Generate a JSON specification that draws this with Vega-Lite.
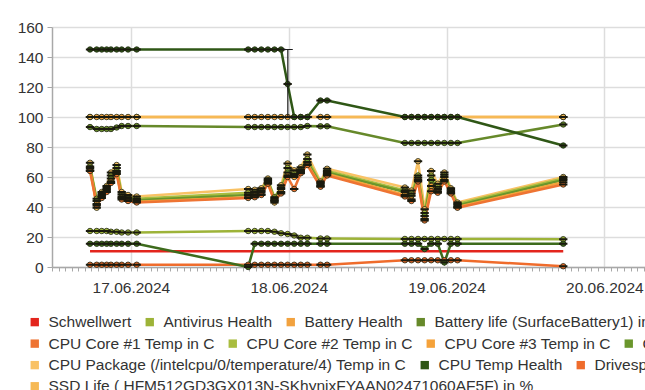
{
  "$schema": "https://vega.github.io/schema/vega-lite/v6.json",
  "autosize": {"type": "none"},
  "padding": {"left": 52, "top": 27, "right": 0, "bottom": 123},
  "width": 593,
  "height": 240,
  "config": {"view": {"stroke": null}, "font": "Liberation Sans",
    "legend": {"orient": "none", "direction": "horizontal", "title": null, "symbolType": "square", "symbolSize": 70,
      "symbolStrokeWidth": 0, "symbolOpacity": 1, "labelFont": "Liberation Sans", "labelFontSize": 15.5,
      "labelColor": "#333333", "labelOffset": 6, "columnPadding": 10, "labelLimit": 1000, "padding": 0}},
  "datasets": {
    "series": [
      {"s":"Schwellwert","t":"2024-06-16T17:47","v":10.5},
      {"s":"Schwellwert","t":"2024-06-19T17:45","v":10.5},

      {"s":"Antivirus Health","t":"2024-06-16T17:47","v":24},
      {"s":"Antivirus Health","t":"2024-06-16T18:48","v":24},
      {"s":"Antivirus Health","t":"2024-06-16T19:34","v":24},
      {"s":"Antivirus Health","t":"2024-06-16T20:19","v":24},
      {"s":"Antivirus Health","t":"2024-06-16T20:58","v":23.5},
      {"s":"Antivirus Health","t":"2024-06-16T21:50","v":23.5},
      {"s":"Antivirus Health","t":"2024-06-16T22:36","v":23},
      {"s":"Antivirus Health","t":"2024-06-16T23:34","v":23},
      {"s":"Antivirus Health","t":"2024-06-17T00:53","v":23},
      {"s":"Antivirus Health","t":"2024-06-17T17:50","v":24},
      {"s":"Antivirus Health","t":"2024-06-17T18:50","v":24},
      {"s":"Antivirus Health","t":"2024-06-17T19:50","v":24},
      {"s":"Antivirus Health","t":"2024-06-17T20:50","v":24},
      {"s":"Antivirus Health","t":"2024-06-17T21:50","v":23.5},
      {"s":"Antivirus Health","t":"2024-06-17T22:50","v":22.5},
      {"s":"Antivirus Health","t":"2024-06-17T23:50","v":22},
      {"s":"Antivirus Health","t":"2024-06-18T00:50","v":21},
      {"s":"Antivirus Health","t":"2024-06-18T01:50","v":19.5},
      {"s":"Antivirus Health","t":"2024-06-18T02:50","v":19.5},
      {"s":"Antivirus Health","t":"2024-06-18T04:50","v":19},
      {"s":"Antivirus Health","t":"2024-06-18T05:50","v":19},
      {"s":"Antivirus Health","t":"2024-06-18T17:40","v":18.7},
      {"s":"Antivirus Health","t":"2024-06-18T18:40","v":18.7},
      {"s":"Antivirus Health","t":"2024-06-18T19:40","v":18.7},
      {"s":"Antivirus Health","t":"2024-06-18T20:40","v":18.7},
      {"s":"Antivirus Health","t":"2024-06-18T21:40","v":18.7},
      {"s":"Antivirus Health","t":"2024-06-18T22:40","v":18.7},
      {"s":"Antivirus Health","t":"2024-06-18T23:40","v":18.7},
      {"s":"Antivirus Health","t":"2024-06-19T00:40","v":18.7},
      {"s":"Antivirus Health","t":"2024-06-19T01:40","v":18.7},
      {"s":"Antivirus Health","t":"2024-06-19T17:45","v":18.5},

      {"s":"Battery Health","t":"2024-06-16T17:47","v":100},
      {"s":"Battery Health","t":"2024-06-16T18:48","v":100},
      {"s":"Battery Health","t":"2024-06-16T19:34","v":100},
      {"s":"Battery Health","t":"2024-06-16T20:19","v":100},
      {"s":"Battery Health","t":"2024-06-16T20:58","v":100},
      {"s":"Battery Health","t":"2024-06-16T21:50","v":100},
      {"s":"Battery Health","t":"2024-06-16T22:36","v":100},
      {"s":"Battery Health","t":"2024-06-16T23:34","v":100},
      {"s":"Battery Health","t":"2024-06-17T00:53","v":100},
      {"s":"Battery Health","t":"2024-06-17T17:50","v":100},
      {"s":"Battery Health","t":"2024-06-17T18:50","v":100},
      {"s":"Battery Health","t":"2024-06-17T19:50","v":100},
      {"s":"Battery Health","t":"2024-06-17T20:50","v":100},
      {"s":"Battery Health","t":"2024-06-17T21:50","v":100},
      {"s":"Battery Health","t":"2024-06-17T22:50","v":100},
      {"s":"Battery Health","t":"2024-06-17T23:50","v":100},
      {"s":"Battery Health","t":"2024-06-18T00:50","v":100},
      {"s":"Battery Health","t":"2024-06-18T01:50","v":100},
      {"s":"Battery Health","t":"2024-06-18T02:50","v":100},
      {"s":"Battery Health","t":"2024-06-18T04:50","v":100},
      {"s":"Battery Health","t":"2024-06-18T05:50","v":100},
      {"s":"Battery Health","t":"2024-06-18T17:40","v":100},
      {"s":"Battery Health","t":"2024-06-18T18:40","v":100},
      {"s":"Battery Health","t":"2024-06-18T19:40","v":100},
      {"s":"Battery Health","t":"2024-06-18T20:40","v":100},
      {"s":"Battery Health","t":"2024-06-18T21:40","v":100},
      {"s":"Battery Health","t":"2024-06-18T22:40","v":100},
      {"s":"Battery Health","t":"2024-06-18T23:40","v":100},
      {"s":"Battery Health","t":"2024-06-19T00:40","v":100},
      {"s":"Battery Health","t":"2024-06-19T01:40","v":100},
      {"s":"Battery Health","t":"2024-06-19T17:45","v":100},

      {"s":"Battery life (SurfaceBattery1) in %","t":"2024-06-16T17:47","v":93.3},
      {"s":"Battery life (SurfaceBattery1) in %","t":"2024-06-16T18:48","v":92},
      {"s":"Battery life (SurfaceBattery1) in %","t":"2024-06-16T19:34","v":92},
      {"s":"Battery life (SurfaceBattery1) in %","t":"2024-06-16T20:19","v":92},
      {"s":"Battery life (SurfaceBattery1) in %","t":"2024-06-16T20:58","v":92},
      {"s":"Battery life (SurfaceBattery1) in %","t":"2024-06-16T21:50","v":93},
      {"s":"Battery life (SurfaceBattery1) in %","t":"2024-06-16T22:36","v":94},
      {"s":"Battery life (SurfaceBattery1) in %","t":"2024-06-16T23:34","v":94},
      {"s":"Battery life (SurfaceBattery1) in %","t":"2024-06-17T00:53","v":94},
      {"s":"Battery life (SurfaceBattery1) in %","t":"2024-06-17T17:50","v":93.3},
      {"s":"Battery life (SurfaceBattery1) in %","t":"2024-06-17T18:50","v":93.3},
      {"s":"Battery life (SurfaceBattery1) in %","t":"2024-06-17T19:50","v":93.3},
      {"s":"Battery life (SurfaceBattery1) in %","t":"2024-06-17T20:50","v":93.3},
      {"s":"Battery life (SurfaceBattery1) in %","t":"2024-06-17T21:50","v":93.3},
      {"s":"Battery life (SurfaceBattery1) in %","t":"2024-06-17T22:50","v":93.3},
      {"s":"Battery life (SurfaceBattery1) in %","t":"2024-06-17T23:50","v":93.3},
      {"s":"Battery life (SurfaceBattery1) in %","t":"2024-06-18T00:50","v":93.3},
      {"s":"Battery life (SurfaceBattery1) in %","t":"2024-06-18T01:50","v":93.3},
      {"s":"Battery life (SurfaceBattery1) in %","t":"2024-06-18T02:50","v":94},
      {"s":"Battery life (SurfaceBattery1) in %","t":"2024-06-18T04:50","v":93.8},
      {"s":"Battery life (SurfaceBattery1) in %","t":"2024-06-18T05:50","v":93.8},
      {"s":"Battery life (SurfaceBattery1) in %","t":"2024-06-18T17:40","v":82.7},
      {"s":"Battery life (SurfaceBattery1) in %","t":"2024-06-18T18:40","v":82.7},
      {"s":"Battery life (SurfaceBattery1) in %","t":"2024-06-18T19:40","v":82.7},
      {"s":"Battery life (SurfaceBattery1) in %","t":"2024-06-18T20:40","v":82.7},
      {"s":"Battery life (SurfaceBattery1) in %","t":"2024-06-18T21:40","v":82.7},
      {"s":"Battery life (SurfaceBattery1) in %","t":"2024-06-18T22:40","v":82.7},
      {"s":"Battery life (SurfaceBattery1) in %","t":"2024-06-18T23:40","v":82.7},
      {"s":"Battery life (SurfaceBattery1) in %","t":"2024-06-19T00:40","v":82.7},
      {"s":"Battery life (SurfaceBattery1) in %","t":"2024-06-19T01:40","v":82.7},
      {"s":"Battery life (SurfaceBattery1) in %","t":"2024-06-19T17:45","v":95},

      {"s":"CPU Package (/intelcpu/0/temperature/4) Temp in C","t":"2024-06-16T17:47","v":69.5},
      {"s":"CPU Package (/intelcpu/0/temperature/4) Temp in C","t":"2024-06-16T18:48","v":39.5},
      {"s":"CPU Package (/intelcpu/0/temperature/4) Temp in C","t":"2024-06-16T19:34","v":50},
      {"s":"CPU Package (/intelcpu/0/temperature/4) Temp in C","t":"2024-06-16T20:19","v":54},
      {"s":"CPU Package (/intelcpu/0/temperature/4) Temp in C","t":"2024-06-16T20:58","v":63},
      {"s":"CPU Package (/intelcpu/0/temperature/4) Temp in C","t":"2024-06-16T21:50","v":68},
      {"s":"CPU Package (/intelcpu/0/temperature/4) Temp in C","t":"2024-06-16T22:36","v":50},
      {"s":"CPU Package (/intelcpu/0/temperature/4) Temp in C","t":"2024-06-16T23:34","v":48},
      {"s":"CPU Package (/intelcpu/0/temperature/4) Temp in C","t":"2024-06-17T00:53","v":47},
      {"s":"CPU Package (/intelcpu/0/temperature/4) Temp in C","t":"2024-06-17T17:50","v":52},
      {"s":"CPU Package (/intelcpu/0/temperature/4) Temp in C","t":"2024-06-17T18:50","v":51.5},
      {"s":"CPU Package (/intelcpu/0/temperature/4) Temp in C","t":"2024-06-17T19:50","v":52.5},
      {"s":"CPU Package (/intelcpu/0/temperature/4) Temp in C","t":"2024-06-17T20:50","v":59},
      {"s":"CPU Package (/intelcpu/0/temperature/4) Temp in C","t":"2024-06-17T21:50","v":43},
      {"s":"CPU Package (/intelcpu/0/temperature/4) Temp in C","t":"2024-06-17T22:50","v":54.5},
      {"s":"CPU Package (/intelcpu/0/temperature/4) Temp in C","t":"2024-06-17T23:50","v":69},
      {"s":"CPU Package (/intelcpu/0/temperature/4) Temp in C","t":"2024-06-18T00:50","v":64.5},
      {"s":"CPU Package (/intelcpu/0/temperature/4) Temp in C","t":"2024-06-18T01:50","v":66.5},
      {"s":"CPU Package (/intelcpu/0/temperature/4) Temp in C","t":"2024-06-18T02:50","v":75},
      {"s":"CPU Package (/intelcpu/0/temperature/4) Temp in C","t":"2024-06-18T04:50","v":57},
      {"s":"CPU Package (/intelcpu/0/temperature/4) Temp in C","t":"2024-06-18T05:50","v":65.5},
      {"s":"CPU Package (/intelcpu/0/temperature/4) Temp in C","t":"2024-06-18T17:40","v":53},
      {"s":"CPU Package (/intelcpu/0/temperature/4) Temp in C","t":"2024-06-18T18:40","v":51},
      {"s":"CPU Package (/intelcpu/0/temperature/4) Temp in C","t":"2024-06-18T19:40","v":70.5},
      {"s":"CPU Package (/intelcpu/0/temperature/4) Temp in C","t":"2024-06-18T20:40","v":38.5},
      {"s":"CPU Package (/intelcpu/0/temperature/4) Temp in C","t":"2024-06-18T21:40","v":64},
      {"s":"CPU Package (/intelcpu/0/temperature/4) Temp in C","t":"2024-06-18T22:40","v":55.5},
      {"s":"CPU Package (/intelcpu/0/temperature/4) Temp in C","t":"2024-06-18T23:40","v":63},
      {"s":"CPU Package (/intelcpu/0/temperature/4) Temp in C","t":"2024-06-19T00:40","v":52.5},
      {"s":"CPU Package (/intelcpu/0/temperature/4) Temp in C","t":"2024-06-19T01:40","v":43},
      {"s":"CPU Package (/intelcpu/0/temperature/4) Temp in C","t":"2024-06-19T17:45","v":60},

      {"s":"CPU Core #2 Temp in C","t":"2024-06-16T17:47","v":67},
      {"s":"CPU Core #2 Temp in C","t":"2024-06-16T18:48","v":45.5},
      {"s":"CPU Core #2 Temp in C","t":"2024-06-16T19:34","v":49},
      {"s":"CPU Core #2 Temp in C","t":"2024-06-16T20:19","v":53},
      {"s":"CPU Core #2 Temp in C","t":"2024-06-16T20:58","v":61},
      {"s":"CPU Core #2 Temp in C","t":"2024-06-16T21:50","v":66},
      {"s":"CPU Core #2 Temp in C","t":"2024-06-16T22:36","v":48.5},
      {"s":"CPU Core #2 Temp in C","t":"2024-06-16T23:34","v":46.5},
      {"s":"CPU Core #2 Temp in C","t":"2024-06-17T00:53","v":45.5},
      {"s":"CPU Core #2 Temp in C","t":"2024-06-17T17:50","v":49.5},
      {"s":"CPU Core #2 Temp in C","t":"2024-06-17T18:50","v":50},
      {"s":"CPU Core #2 Temp in C","t":"2024-06-17T19:50","v":51},
      {"s":"CPU Core #2 Temp in C","t":"2024-06-17T20:50","v":58},
      {"s":"CPU Core #2 Temp in C","t":"2024-06-17T21:50","v":46.5},
      {"s":"CPU Core #2 Temp in C","t":"2024-06-17T22:50","v":53},
      {"s":"CPU Core #2 Temp in C","t":"2024-06-17T23:50","v":66},
      {"s":"CPU Core #2 Temp in C","t":"2024-06-18T00:50","v":62},
      {"s":"CPU Core #2 Temp in C","t":"2024-06-18T01:50","v":65},
      {"s":"CPU Core #2 Temp in C","t":"2024-06-18T02:50","v":72},
      {"s":"CPU Core #2 Temp in C","t":"2024-06-18T04:50","v":56},
      {"s":"CPU Core #2 Temp in C","t":"2024-06-18T05:50","v":64},
      {"s":"CPU Core #2 Temp in C","t":"2024-06-18T17:40","v":51},
      {"s":"CPU Core #2 Temp in C","t":"2024-06-18T18:40","v":49},
      {"s":"CPU Core #2 Temp in C","t":"2024-06-18T19:40","v":61},
      {"s":"CPU Core #2 Temp in C","t":"2024-06-18T20:40","v":36},
      {"s":"CPU Core #2 Temp in C","t":"2024-06-18T21:40","v":61},
      {"s":"CPU Core #2 Temp in C","t":"2024-06-18T22:40","v":53.5},
      {"s":"CPU Core #2 Temp in C","t":"2024-06-18T23:40","v":61.5},
      {"s":"CPU Core #2 Temp in C","t":"2024-06-19T00:40","v":51.5},
      {"s":"CPU Core #2 Temp in C","t":"2024-06-19T01:40","v":42},
      {"s":"CPU Core #2 Temp in C","t":"2024-06-19T17:45","v":59},

      {"s":"CPU Core #4 Temp in C","t":"2024-06-16T17:47","v":66},
      {"s":"CPU Core #4 Temp in C","t":"2024-06-16T18:48","v":44},
      {"s":"CPU Core #4 Temp in C","t":"2024-06-16T19:34","v":48},
      {"s":"CPU Core #4 Temp in C","t":"2024-06-16T20:19","v":52},
      {"s":"CPU Core #4 Temp in C","t":"2024-06-16T20:58","v":59},
      {"s":"CPU Core #4 Temp in C","t":"2024-06-16T21:50","v":64},
      {"s":"CPU Core #4 Temp in C","t":"2024-06-16T22:36","v":47},
      {"s":"CPU Core #4 Temp in C","t":"2024-06-16T23:34","v":45.5},
      {"s":"CPU Core #4 Temp in C","t":"2024-06-17T00:53","v":44.5},
      {"s":"CPU Core #4 Temp in C","t":"2024-06-17T17:50","v":48},
      {"s":"CPU Core #4 Temp in C","t":"2024-06-17T18:50","v":48.5},
      {"s":"CPU Core #4 Temp in C","t":"2024-06-17T19:50","v":50},
      {"s":"CPU Core #4 Temp in C","t":"2024-06-17T20:50","v":57},
      {"s":"CPU Core #4 Temp in C","t":"2024-06-17T21:50","v":45.5},
      {"s":"CPU Core #4 Temp in C","t":"2024-06-17T22:50","v":52},
      {"s":"CPU Core #4 Temp in C","t":"2024-06-17T23:50","v":63},
      {"s":"CPU Core #4 Temp in C","t":"2024-06-18T00:50","v":61},
      {"s":"CPU Core #4 Temp in C","t":"2024-06-18T01:50","v":64},
      {"s":"CPU Core #4 Temp in C","t":"2024-06-18T02:50","v":70},
      {"s":"CPU Core #4 Temp in C","t":"2024-06-18T04:50","v":55},
      {"s":"CPU Core #4 Temp in C","t":"2024-06-18T05:50","v":63},
      {"s":"CPU Core #4 Temp in C","t":"2024-06-18T17:40","v":50},
      {"s":"CPU Core #4 Temp in C","t":"2024-06-18T18:40","v":47.5},
      {"s":"CPU Core #4 Temp in C","t":"2024-06-18T19:40","v":59.5},
      {"s":"CPU Core #4 Temp in C","t":"2024-06-18T20:40","v":34},
      {"s":"CPU Core #4 Temp in C","t":"2024-06-18T21:40","v":58},
      {"s":"CPU Core #4 Temp in C","t":"2024-06-18T22:40","v":52},
      {"s":"CPU Core #4 Temp in C","t":"2024-06-18T23:40","v":60},
      {"s":"CPU Core #4 Temp in C","t":"2024-06-19T00:40","v":50.5},
      {"s":"CPU Core #4 Temp in C","t":"2024-06-19T01:40","v":41},
      {"s":"CPU Core #4 Temp in C","t":"2024-06-19T17:45","v":58},

      {"s":"CPU Core #3 Temp in C","t":"2024-06-16T17:47","v":64.5},
      {"s":"CPU Core #3 Temp in C","t":"2024-06-16T18:48","v":42},
      {"s":"CPU Core #3 Temp in C","t":"2024-06-16T19:34","v":47},
      {"s":"CPU Core #3 Temp in C","t":"2024-06-16T20:19","v":51},
      {"s":"CPU Core #3 Temp in C","t":"2024-06-16T20:58","v":57},
      {"s":"CPU Core #3 Temp in C","t":"2024-06-16T21:50","v":63},
      {"s":"CPU Core #3 Temp in C","t":"2024-06-16T22:36","v":46},
      {"s":"CPU Core #3 Temp in C","t":"2024-06-16T23:34","v":44.5},
      {"s":"CPU Core #3 Temp in C","t":"2024-06-17T00:53","v":43.5},
      {"s":"CPU Core #3 Temp in C","t":"2024-06-17T17:50","v":46.5},
      {"s":"CPU Core #3 Temp in C","t":"2024-06-17T18:50","v":47.5},
      {"s":"CPU Core #3 Temp in C","t":"2024-06-17T19:50","v":48.5},
      {"s":"CPU Core #3 Temp in C","t":"2024-06-17T20:50","v":56},
      {"s":"CPU Core #3 Temp in C","t":"2024-06-17T21:50","v":44.5},
      {"s":"CPU Core #3 Temp in C","t":"2024-06-17T22:50","v":50},
      {"s":"CPU Core #3 Temp in C","t":"2024-06-17T23:50","v":61},
      {"s":"CPU Core #3 Temp in C","t":"2024-06-18T00:50","v":60},
      {"s":"CPU Core #3 Temp in C","t":"2024-06-18T01:50","v":63},
      {"s":"CPU Core #3 Temp in C","t":"2024-06-18T02:50","v":68.5},
      {"s":"CPU Core #3 Temp in C","t":"2024-06-18T04:50","v":54},
      {"s":"CPU Core #3 Temp in C","t":"2024-06-18T05:50","v":62},
      {"s":"CPU Core #3 Temp in C","t":"2024-06-18T17:40","v":48},
      {"s":"CPU Core #3 Temp in C","t":"2024-06-18T18:40","v":45},
      {"s":"CPU Core #3 Temp in C","t":"2024-06-18T19:40","v":58},
      {"s":"CPU Core #3 Temp in C","t":"2024-06-18T20:40","v":32},
      {"s":"CPU Core #3 Temp in C","t":"2024-06-18T21:40","v":54},
      {"s":"CPU Core #3 Temp in C","t":"2024-06-18T22:40","v":50.5},
      {"s":"CPU Core #3 Temp in C","t":"2024-06-18T23:40","v":58},
      {"s":"CPU Core #3 Temp in C","t":"2024-06-19T00:40","v":49.5},
      {"s":"CPU Core #3 Temp in C","t":"2024-06-19T01:40","v":40},
      {"s":"CPU Core #3 Temp in C","t":"2024-06-19T17:45","v":56.5},

      {"s":"CPU Core #1 Temp in C","t":"2024-06-16T17:47","v":64},
      {"s":"CPU Core #1 Temp in C","t":"2024-06-16T18:48","v":41},
      {"s":"CPU Core #1 Temp in C","t":"2024-06-16T19:34","v":46},
      {"s":"CPU Core #1 Temp in C","t":"2024-06-16T20:19","v":50},
      {"s":"CPU Core #1 Temp in C","t":"2024-06-16T20:58","v":56},
      {"s":"CPU Core #1 Temp in C","t":"2024-06-16T21:50","v":62},
      {"s":"CPU Core #1 Temp in C","t":"2024-06-16T22:36","v":45},
      {"s":"CPU Core #1 Temp in C","t":"2024-06-16T23:34","v":44},
      {"s":"CPU Core #1 Temp in C","t":"2024-06-17T00:53","v":43},
      {"s":"CPU Core #1 Temp in C","t":"2024-06-17T17:50","v":46},
      {"s":"CPU Core #1 Temp in C","t":"2024-06-17T18:50","v":46.5},
      {"s":"CPU Core #1 Temp in C","t":"2024-06-17T19:50","v":48},
      {"s":"CPU Core #1 Temp in C","t":"2024-06-17T20:50","v":55.5},
      {"s":"CPU Core #1 Temp in C","t":"2024-06-17T21:50","v":44},
      {"s":"CPU Core #1 Temp in C","t":"2024-06-17T22:50","v":49},
      {"s":"CPU Core #1 Temp in C","t":"2024-06-17T23:50","v":60},
      {"s":"CPU Core #1 Temp in C","t":"2024-06-18T00:50","v":52},
      {"s":"CPU Core #1 Temp in C","t":"2024-06-18T01:50","v":62.5},
      {"s":"CPU Core #1 Temp in C","t":"2024-06-18T02:50","v":68},
      {"s":"CPU Core #1 Temp in C","t":"2024-06-18T04:50","v":53.5},
      {"s":"CPU Core #1 Temp in C","t":"2024-06-18T05:50","v":61},
      {"s":"CPU Core #1 Temp in C","t":"2024-06-18T17:40","v":47},
      {"s":"CPU Core #1 Temp in C","t":"2024-06-18T18:40","v":44},
      {"s":"CPU Core #1 Temp in C","t":"2024-06-18T19:40","v":57},
      {"s":"CPU Core #1 Temp in C","t":"2024-06-18T20:40","v":31},
      {"s":"CPU Core #1 Temp in C","t":"2024-06-18T21:40","v":50.5},
      {"s":"CPU Core #1 Temp in C","t":"2024-06-18T22:40","v":49.5},
      {"s":"CPU Core #1 Temp in C","t":"2024-06-18T23:40","v":57},
      {"s":"CPU Core #1 Temp in C","t":"2024-06-19T00:40","v":49},
      {"s":"CPU Core #1 Temp in C","t":"2024-06-19T01:40","v":39.5},
      {"s":"CPU Core #1 Temp in C","t":"2024-06-19T17:45","v":55},

      {"s":"Drivespace C: in %","t":"2024-06-16T17:47","v":1.5},
      {"s":"Drivespace C: in %","t":"2024-06-16T18:48","v":1.5},
      {"s":"Drivespace C: in %","t":"2024-06-16T19:34","v":1.5},
      {"s":"Drivespace C: in %","t":"2024-06-16T20:19","v":1.5},
      {"s":"Drivespace C: in %","t":"2024-06-16T20:58","v":1.5},
      {"s":"Drivespace C: in %","t":"2024-06-16T21:50","v":1.5},
      {"s":"Drivespace C: in %","t":"2024-06-16T22:36","v":1.5},
      {"s":"Drivespace C: in %","t":"2024-06-16T23:34","v":1.5},
      {"s":"Drivespace C: in %","t":"2024-06-17T00:53","v":1.5},
      {"s":"Drivespace C: in %","t":"2024-06-17T17:50","v":1.5},
      {"s":"Drivespace C: in %","t":"2024-06-17T18:50","v":1.5},
      {"s":"Drivespace C: in %","t":"2024-06-17T19:50","v":1.5},
      {"s":"Drivespace C: in %","t":"2024-06-17T20:50","v":1.5},
      {"s":"Drivespace C: in %","t":"2024-06-17T21:50","v":1.5},
      {"s":"Drivespace C: in %","t":"2024-06-17T22:50","v":1.5},
      {"s":"Drivespace C: in %","t":"2024-06-17T23:50","v":1.5},
      {"s":"Drivespace C: in %","t":"2024-06-18T00:50","v":1.5},
      {"s":"Drivespace C: in %","t":"2024-06-18T01:50","v":1.5},
      {"s":"Drivespace C: in %","t":"2024-06-18T02:50","v":1.5},
      {"s":"Drivespace C: in %","t":"2024-06-18T04:50","v":1.5},
      {"s":"Drivespace C: in %","t":"2024-06-18T05:50","v":1.5},
      {"s":"Drivespace C: in %","t":"2024-06-18T17:40","v":4.5},
      {"s":"Drivespace C: in %","t":"2024-06-18T18:40","v":4.5},
      {"s":"Drivespace C: in %","t":"2024-06-18T19:40","v":4.5},
      {"s":"Drivespace C: in %","t":"2024-06-18T20:40","v":4.5},
      {"s":"Drivespace C: in %","t":"2024-06-18T21:40","v":4.5},
      {"s":"Drivespace C: in %","t":"2024-06-18T22:40","v":4.5},
      {"s":"Drivespace C: in %","t":"2024-06-18T23:40","v":4.5},
      {"s":"Drivespace C: in %","t":"2024-06-19T00:40","v":4.5},
      {"s":"Drivespace C: in %","t":"2024-06-19T01:40","v":4.5},
      {"s":"Drivespace C: in %","t":"2024-06-19T17:45","v":0.5},

      {"s":"Firewall Health","t":"2024-06-16T17:47","v":15.5},
      {"s":"Firewall Health","t":"2024-06-16T18:48","v":15.5},
      {"s":"Firewall Health","t":"2024-06-16T19:34","v":15.5},
      {"s":"Firewall Health","t":"2024-06-16T20:19","v":15.5},
      {"s":"Firewall Health","t":"2024-06-16T20:58","v":15.5},
      {"s":"Firewall Health","t":"2024-06-16T21:50","v":15.5},
      {"s":"Firewall Health","t":"2024-06-16T22:36","v":15.5},
      {"s":"Firewall Health","t":"2024-06-16T23:34","v":15.5},
      {"s":"Firewall Health","t":"2024-06-17T00:53","v":15.5},
      {"s":"Firewall Health","t":"2024-06-17T17:50","v":0},
      {"s":"Firewall Health","t":"2024-06-17T18:50","v":15.5},
      {"s":"Firewall Health","t":"2024-06-17T19:50","v":15.5},
      {"s":"Firewall Health","t":"2024-06-17T20:50","v":15.5},
      {"s":"Firewall Health","t":"2024-06-17T21:50","v":15.5},
      {"s":"Firewall Health","t":"2024-06-17T22:50","v":15.5},
      {"s":"Firewall Health","t":"2024-06-17T23:50","v":15.5},
      {"s":"Firewall Health","t":"2024-06-18T00:50","v":15.5},
      {"s":"Firewall Health","t":"2024-06-18T01:50","v":15.5},
      {"s":"Firewall Health","t":"2024-06-18T02:50","v":15.5},
      {"s":"Firewall Health","t":"2024-06-18T04:50","v":15.5},
      {"s":"Firewall Health","t":"2024-06-18T05:50","v":15.5},
      {"s":"Firewall Health","t":"2024-06-18T17:40","v":15.5},
      {"s":"Firewall Health","t":"2024-06-18T18:40","v":15.5},
      {"s":"Firewall Health","t":"2024-06-18T19:40","v":15.5},
      {"s":"Firewall Health","t":"2024-06-18T20:40","v":12},
      {"s":"Firewall Health","t":"2024-06-18T21:40","v":15.5},
      {"s":"Firewall Health","t":"2024-06-18T22:40","v":15.5},
      {"s":"Firewall Health","t":"2024-06-18T23:40","v":3},
      {"s":"Firewall Health","t":"2024-06-19T00:40","v":15.5},
      {"s":"Firewall Health","t":"2024-06-19T01:40","v":15.5},
      {"s":"Firewall Health","t":"2024-06-19T17:45","v":15.5},

      {"s":"SSD Life ( HFM512GD3GX013N-SKhynixFYAAN02471060AF5F) in %","t":"2024-06-16T17:47","v":100},
      {"s":"SSD Life ( HFM512GD3GX013N-SKhynixFYAAN02471060AF5F) in %","t":"2024-06-17T00:53","v":100},
      {"s":"SSD Life ( HFM512GD3GX013N-SKhynixFYAAN02471060AF5F) in %","t":"2024-06-19T17:45","v":100},

      {"s":"CPU Temp Health","t":"2024-06-16T17:47","v":145},
      {"s":"CPU Temp Health","t":"2024-06-16T18:48","v":145},
      {"s":"CPU Temp Health","t":"2024-06-16T19:34","v":145},
      {"s":"CPU Temp Health","t":"2024-06-16T20:19","v":145},
      {"s":"CPU Temp Health","t":"2024-06-16T20:58","v":145},
      {"s":"CPU Temp Health","t":"2024-06-16T21:50","v":145},
      {"s":"CPU Temp Health","t":"2024-06-16T22:36","v":145},
      {"s":"CPU Temp Health","t":"2024-06-16T23:34","v":145},
      {"s":"CPU Temp Health","t":"2024-06-17T00:53","v":145},
      {"s":"CPU Temp Health","t":"2024-06-17T17:50","v":145},
      {"s":"CPU Temp Health","t":"2024-06-17T18:50","v":145},
      {"s":"CPU Temp Health","t":"2024-06-17T19:50","v":145},
      {"s":"CPU Temp Health","t":"2024-06-17T20:50","v":145},
      {"s":"CPU Temp Health","t":"2024-06-17T21:50","v":145},
      {"s":"CPU Temp Health","t":"2024-06-17T22:50","v":145},
      {"s":"CPU Temp Health","t":"2024-06-17T23:50","v":122},
      {"s":"CPU Temp Health","t":"2024-06-18T00:50","v":100},
      {"s":"CPU Temp Health","t":"2024-06-18T01:50","v":100},
      {"s":"CPU Temp Health","t":"2024-06-18T02:50","v":100},
      {"s":"CPU Temp Health","t":"2024-06-18T04:50","v":111},
      {"s":"CPU Temp Health","t":"2024-06-18T05:50","v":111},
      {"s":"CPU Temp Health","t":"2024-06-18T17:40","v":100},
      {"s":"CPU Temp Health","t":"2024-06-18T18:40","v":100},
      {"s":"CPU Temp Health","t":"2024-06-18T19:40","v":100},
      {"s":"CPU Temp Health","t":"2024-06-18T20:40","v":100},
      {"s":"CPU Temp Health","t":"2024-06-18T21:40","v":100},
      {"s":"CPU Temp Health","t":"2024-06-18T22:40","v":100},
      {"s":"CPU Temp Health","t":"2024-06-18T23:40","v":100},
      {"s":"CPU Temp Health","t":"2024-06-19T00:40","v":100},
      {"s":"CPU Temp Health","t":"2024-06-19T01:40","v":100},
      {"s":"CPU Temp Health","t":"2024-06-19T17:45","v":81}
    ],
    "whisker": [
      {"i":1,"t":"2024-06-17T22:51","v":145},
      {"i":2,"t":"2024-06-18T00:37","v":145},
      {"i":3,"t":"2024-06-17T23:52","v":145},
      {"i":4,"t":"2024-06-17T23:52","v":100},
      {"i":5,"t":"2024-06-17T23:05","v":100},
      {"i":6,"t":"2024-06-18T03:35","v":100}
    ]
  },
  "resolve": {"axis": {"x": "independent"}, "scale": {"color": "independent"}, "legend": {"color": "independent"}},
  "layer": [
    {
      "encoding": {
        "x": {
          "field": "t", "type": "temporal", "title": null,
          "scale": {"domain": [{"year": 2024, "month": 6, "date": 16, "hours": 12}, {"year": 2024, "month": 6, "date": 20, "hours": 6, "minutes": 11}]},
          "axis": {
            "tickCount": 90,
            "labelExpr": "hours(datum.value) == 0 ? timeFormat(datum.value, '%d.%m.%Y') : ''",
            "labelOverlap": false, "labelFlush": false, "labelBound": false,
            "labelFont": "Liberation Sans", "labelFontSize": 15.5, "labelColor": "#333333", "labelPadding": 9,
            "tickSize": 4, "tickColor": "#a8a8a8", "tickWidth": 1,
            "domainColor": "#a8a8a8", "domainWidth": 1.5,
            "grid": false
          }
        },
        "y": {
          "field": "v", "type": "quantitative", "title": null,
          "scale": {"domain": [0, 160], "nice": false},
          "axis": {
            "values": [0, 20, 40, 60, 80, 100, 120, 140, 160],
            "labelFont": "Liberation Sans", "labelFontSize": 15.5, "labelColor": "#333333", "labelPadding": 4,
            "tickSize": 5, "tickColor": "#a8a8a8",
            "domainColor": "#a8a8a8", "domainWidth": 1.5,
            "grid": true, "gridColor": "#dddddd", "gridWidth": 1.5
          }
        }
      },
      "layer": [
        {
          "data": {"name": "series"},
          "mark": {"type": "line", "strokeWidth": 2.5},
          "encoding": {
            "stroke": {
              "field": "s", "type": "nominal", "legend": null,
              "scale": {
                "domain": ["Schwellwert","Antivirus Health","Battery Health","Battery life (SurfaceBattery1) in %","CPU Core #1 Temp in C","CPU Core #2 Temp in C","CPU Core #3 Temp in C","CPU Core #4 Temp in C","CPU Package (/intelcpu/0/temperature/4) Temp in C","CPU Temp Health","Drivespace C: in %","Firewall Health","SSD Life ( HFM512GD3GX013N-SKhynixFYAAN02471060AF5F) in %"],
                "range": ["#e3251d","#9db338","#f2a23f","#66892a","#ee7433","#a9bd3f","#f5a23a","#6a962c","#f9c265","#2f5716","#ef6c2c","#3d6b1c","#f6b955"]
              }
            }
          }
        },
        {
          "data": {"name": "series"},
          "transform": [{"filter": "datum.s != 'Schwellwert'"}],
          "mark": {"type": "point", "shape": "circle", "filled": true, "size": 30, "stroke": "#1e2410", "strokeWidth": 0.8, "opacity": 1},
          "encoding": {
            "fill": {
              "field": "s", "type": "nominal", "legend": null,
              "scale": {
                "domain": ["Schwellwert","Antivirus Health","Battery Health","Battery life (SurfaceBattery1) in %","CPU Core #1 Temp in C","CPU Core #2 Temp in C","CPU Core #3 Temp in C","CPU Core #4 Temp in C","CPU Package (/intelcpu/0/temperature/4) Temp in C","CPU Temp Health","Drivespace C: in %","Firewall Health","SSD Life ( HFM512GD3GX013N-SKhynixFYAAN02471060AF5F) in %"],
                "range": ["#e3251d","#9db338","#f2a23f","#66892a","#ee7433","#a9bd3f","#f5a23a","#6a962c","#f9c265","#2f5716","#ef6c2c","#3d6b1c","#f6b955"]
              }
            }
          }
        },
        {
          "data": {"name": "series"},
          "transform": [{"filter": "datum.s != 'Schwellwert'"}],
          "mark": {"type": "point", "shape": "stroke", "size": 70, "color": "#1a1a0e", "strokeWidth": 2, "opacity": 1},
          "encoding": {}
        }
      ]
    },
    {
      "data": {"name": "whisker"},
      "mark": {"type": "line", "color": "#1a1a1a", "strokeWidth": 1.2},
      "encoding": {
        "x": {
          "field": "t", "type": "temporal", "title": null,
          "scale": {"domain": [{"year": 2024, "month": 6, "date": 16, "hours": 12}, {"year": 2024, "month": 6, "date": 20, "hours": 6, "minutes": 11}]},
          "axis": {
            "orient": "bottom",
            "values": [{"year": 2024, "month": 6, "date": 17}, {"year": 2024, "month": 6, "date": 18}, {"year": 2024, "month": 6, "date": 19}, {"year": 2024, "month": 6, "date": 20}],
            "grid": true, "gridColor": "#dddddd", "gridWidth": 1.5,
            "labels": false, "ticks": false, "domain": false
          }
        },
        "y": {
          "field": "v", "type": "quantitative", "title": null,
          "scale": {"domain": [0, 160], "nice": false},
          "axis": {
            "values": [0, 20, 40, 60, 80, 100, 120, 140, 160],
            "labelFont": "Liberation Sans", "labelFontSize": 15.5, "labelColor": "#333333", "labelPadding": 4,
            "tickSize": 5, "tickColor": "#a8a8a8",
            "domainColor": "#a8a8a8", "domainWidth": 1.5,
            "grid": true, "gridColor": "#dddddd", "gridWidth": 1.5
          }
        },
        "order": {"field": "i", "type": "quantitative"}
      }
    },
    {
      "data": {"name": "series"},
      "transform": [{"filter": "false"}],
      "mark": {"type": "point", "filled": true},
      "encoding": {
        "color": {
          "field": "s", "type": "nominal",
          "scale": {"domain": ["Schwellwert","Antivirus Health","Battery Health","Battery life (SurfaceBattery1) in %"], "range": ["#e3251d","#9db338","#f2a23f","#66892a"]},
          "legend": {"legendX": -25, "legendY": 287, "columns": 4}
        }
      }
    },
    {
      "data": {"name": "series"},
      "transform": [{"filter": "false"}],
      "mark": {"type": "point", "filled": true},
      "encoding": {
        "color": {
          "field": "s", "type": "nominal",
          "scale": {"domain": ["CPU Core #1 Temp in C","CPU Core #2 Temp in C","CPU Core #3 Temp in C","CPU Core #4 Temp in C"], "range": ["#ee7433","#a9bd3f","#f5a23a","#6a962c"]},
          "legend": {"legendX": -25, "legendY": 308.5, "columns": 4}
        }
      }
    },
    {
      "data": {"name": "series"},
      "transform": [{"filter": "false"}],
      "mark": {"type": "point", "filled": true},
      "encoding": {
        "color": {
          "field": "s", "type": "nominal",
          "scale": {"domain": ["CPU Package (/intelcpu/0/temperature/4) Temp in C","CPU Temp Health","Drivespace C: in %","Firewall Health"], "range": ["#f9c265","#2f5716","#ef6c2c","#3d6b1c"]},
          "legend": {"legendX": -25, "legendY": 330, "columns": 4}
        }
      }
    },
    {
      "data": {"name": "series"},
      "transform": [{"filter": "false"}],
      "mark": {"type": "point", "filled": true},
      "encoding": {
        "color": {
          "field": "s", "type": "nominal",
          "scale": {"domain": ["SSD Life ( HFM512GD3GX013N-SKhynixFYAAN02471060AF5F) in %"], "range": ["#f6b955"]},
          "legend": {"legendX": -25, "legendY": 351.5, "columns": 1}
        }
      }
    }
  ]
}
